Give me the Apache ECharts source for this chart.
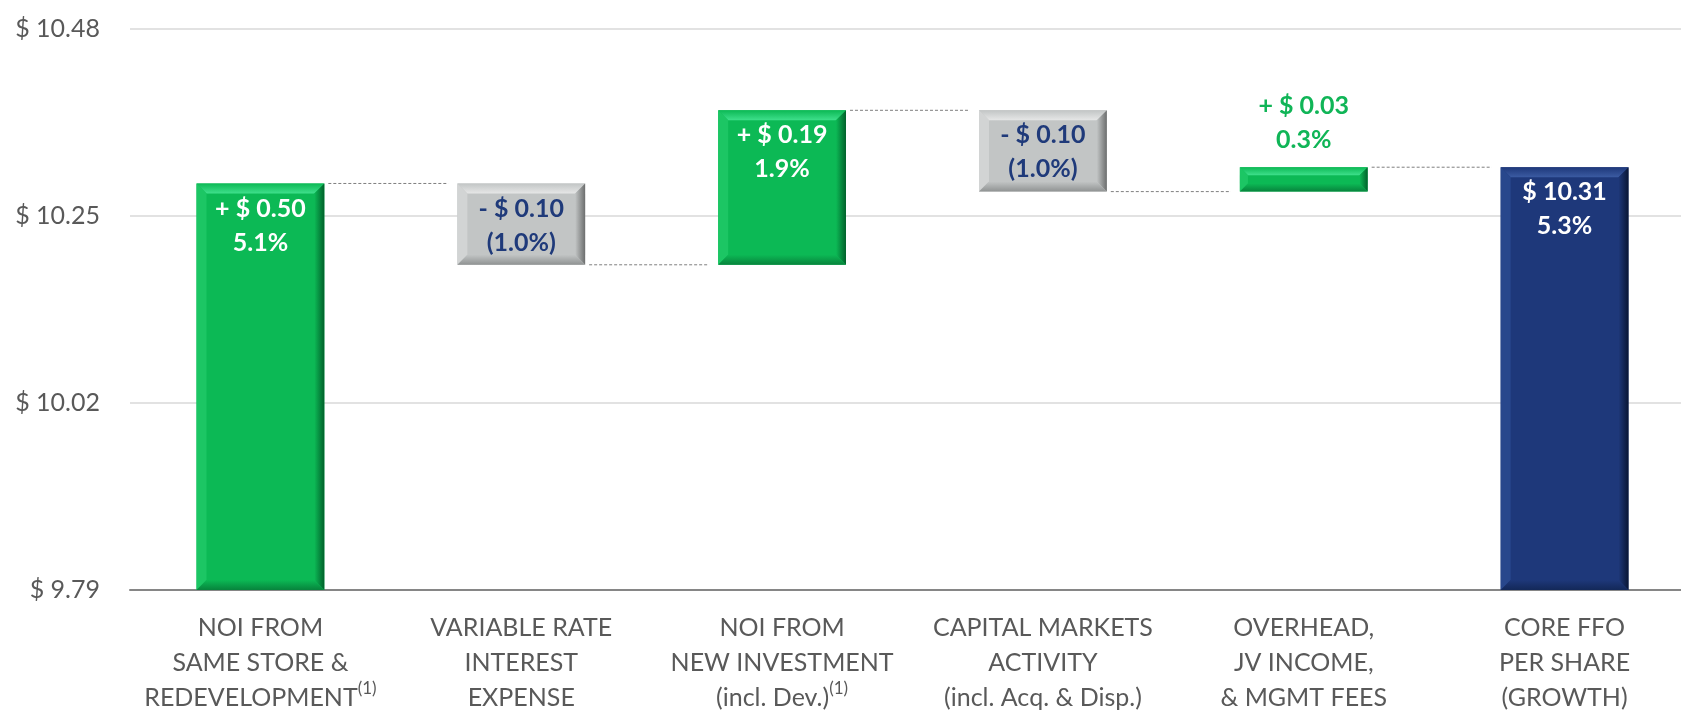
<!DOCTYPE html>
<html>
<head>
<meta charset="utf-8">
<script src="https://cdn.jsdelivr.net/npm/echarts@6/dist/echarts.min.js"></script>
<style>
  html, body { margin: 0; padding: 0; background: #ffffff; }
  #chart { width: 1681px; height: 711px; }
</style>
</head>
<body>
<div id="chart"></div>
<script>
// categories (the {s|...} part is the footnote marker)
const categories = [
  'NOI FROM\nSAME STORE &\nREDEVELOPMENT{s|(1)}',
  'VARIABLE RATE\nINTEREST\nEXPENSE',
  'NOI FROM\nNEW INVESTMENT\n(incl. Dev.){s|(1)}',
  'CAPITAL MARKETS\nACTIVITY\n(incl. Acq. & Disp.)',
  'OVERHEAD,\nJV INCOME,\n& MGMT FEES',
  'CORE FFO\nPER SHARE\n(GROWTH)'
]

const startValue = 9.79
const changes = [0.50, -0.10, 0.19, -0.10, 0.03]
const totalValue = 10.31

const amountLabels = ['+ $ 0.50', '- $ 0.10', '+ $ 0.19', '- $ 0.10', '+ $ 0.03', '$ 10.31']
const pctLabels = ['5.1%', '(1.0%)', '1.9%', '(1.0%)', '0.3%', '5.3%']
const barKinds = ['up', 'down', 'up', 'down', 'up', 'total']
const yTicks = [9.79, 10.02, 10.25, 10.48]

// bevel palettes: face, top, left, right, bottom, label colour
const palette = {
  up: { face: '#0cb955', top: '#3fe08c', left: '#1cc664', right: '#01612b', bottom: '#07833c', text: '#ffffff' },
  down: { face: '#c2c5c5', top: '#e6e7e7', left: '#d2d4d4', right: '#6c6e6e', bottom: '#8f9292', text: '#1f3a7a' },
  total: { face: '#1e387a', top: '#3b5ba2', left: '#28478c', right: '#091634', bottom: '#132858', text: '#ffffff' }
}
const outsideColor = '#10b557'

// build the waterfall rows [index, low, high, end]
const rows = []
let running = startValue
changes.forEach((d, i) => {
  const next = running + d
  rows.push([i, Math.min(running, next), Math.max(running, next), next])
  running = next
})
rows.push([changes.length, startValue, totalValue, totalValue])

const chart = echarts.init(document.getElementById('chart'))

function renderItem(params, api) {
  const i = api.value(0)
  const low = api.value(1)
  const high = api.value(2)
  const end = api.value(3)
  const kind = barKinds[i]
  const pal = palette[kind]

  const pTop = api.coord([i, high])
  const pLow = api.coord([i, low])
  const bandW = api.size([1, 0])[0]
  const w = bandW * 0.49
  const x0 = pTop[0] - w / 2
  const x1 = pTop[0] + w / 2
  const y0 = pTop[1]
  const y1 = pLow[1]
  const h = y1 - y0
  const b = Math.min(10, h / 3)

  const children = [
    { type: 'rect', shape: { x: x0, y: y0, width: w, height: h }, style: { fill: pal.face } },
    { type: 'polygon', shape: { points: [[x0, y0], [x1, y0], [x1 - b, y0 + b], [x0 + b, y0 + b]] },
      style: { fill: new echarts.graphic.LinearGradient(0, 0, 0, 1, [{ offset: 0, color: pal.face }, { offset: 1, color: pal.top }]) } },
    { type: 'polygon', shape: { points: [[x0, y0], [x0 + b, y0 + b], [x0 + b, y1 - b], [x0, y1]] }, style: { fill: pal.left } },
    { type: 'polygon', shape: { points: [[x1, y0], [x1, y1], [x1 - b, y1 - b], [x1 - b, y0 + b]] },
      style: { fill: new echarts.graphic.LinearGradient(0, 0, 1, 0, [{ offset: 0, color: pal.face }, { offset: 1, color: pal.right }]) } },
    { type: 'polygon', shape: { points: [[x0, y1], [x0 + b, y1 - b], [x1 - b, y1 - b], [x1, y1]] },
      style: { fill: new echarts.graphic.LinearGradient(0, 0, 0, 1, [{ offset: 0, color: pal.face }, { offset: 1, color: pal.bottom }]) } }
  ]

  const label = amountLabels[i] + '\n' + pctLabels[i]
  const small = h < 60
  children.push({
    type: 'text',
    style: {
      text: label,
      x: pTop[0],
      y: small ? y0 - 10 : y0 + 8,
      align: 'center',
      verticalAlign: small ? 'bottom' : 'top',
      fill: small ? outsideColor : pal.text,
      fontSize: 25,
      fontWeight: 'bold',
      fontFamily: 'Lato',
      lineHeight: 34
    }
  })

  // dashed connector to the next bar
  if (i < rows.length - 1) {
    const yEnd = api.coord([i, end])[1]
    const nextLeft = api.coord([i + 1, end])[0] - w / 2
    children.push({
      type: 'line',
      shape: { x1: x1 + 4, y1: yEnd, x2: nextLeft - 9, y2: yEnd },
      style: { stroke: '#7f7f7f', lineWidth: 1, lineDash: [3, 2] }
    })
  }

  return { type: 'group', children }
}

chart.setOption({
  animation: false,
  backgroundColor: '#ffffff',
  grid: {
    left: 130,
    top: 29,
    bottom: 121,
    width: 1565,
    outerBoundsMode: 'none'
  },
  xAxis: {
    type: 'category',
    data: categories,
    axisLine: { lineStyle: { color: '#868686', width: 2 } },
    axisTick: { show: false },
    axisLabel: {
      color: '#595959',
      fontFamily: 'Lato',
      fontSize: 25,
      lineHeight: 35,
      margin: 20,
      interval: 0,
      rich: {
        s: { color: '#595959', fontFamily: 'Lato', fontSize: 17, lineHeight: 24, verticalAlign: 'top' }
      }
    }
  },
  yAxis: {
    type: 'value',
    min: yTicks[0],
    max: yTicks[yTicks.length - 1],
    interval: 0.23,
    axisLine: { show: false },
    axisTick: { show: false },
    splitLine: { lineStyle: { color: '#d9d9d9', width: 1.5 } },
    axisLabel: {
      color: '#595959',
      fontFamily: 'Lato',
      fontSize: 25,
      margin: 30,
      formatter: (v) => '$ ' + v.toFixed(2)
    }
  },
  series: [
    {
      type: 'custom',
      renderItem,
      encode: { x: 0, y: [1, 2] },
      data: rows,
      clip: false
    }
  ]
})
</script>
</body>
</html>
